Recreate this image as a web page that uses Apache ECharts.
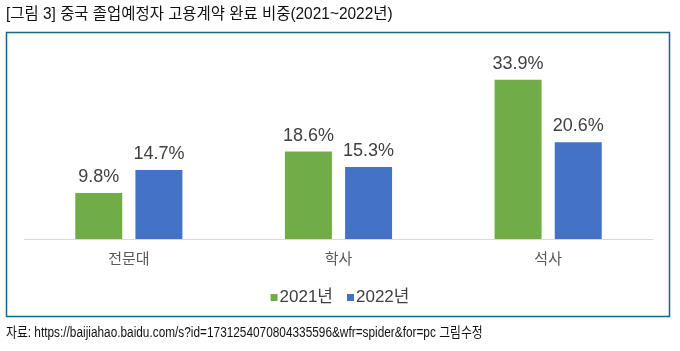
<!DOCTYPE html>
<html>
<head>
<meta charset="utf-8">
<script src="https://cdn.jsdelivr.net/npm/echarts@6/dist/echarts.min.js"></script>
<style>
html,body{margin:0;padding:0;background:#fff;}
#c{width:680px;height:351px;}
</style>
</head>
<body>
<div id="c"></div>
<script>
const categories = ['전문대', '학사', '석사'];
const series2021 = [9.8, 18.6, 33.9];
const series2022 = [14.7, 15.3, 20.6];
const seriesNames = ['2021년', '2022년'];
const titleText = '[그림 3] 중국 졸업예정자 고용계약 완료 비중(2021~2022년)';
const sourceText = '자료: https://baijiahao.baidu.com/s?id=1731254070804335596&wfr=spider&for=pc 그림수정';

const FONT = "'Liberation Sans', 'Noto Sans CJK KR', sans-serif";
const chart = echarts.init(document.getElementById('c'), null, {renderer: 'canvas'});
const labelCfg = {
  show: true, position: 'top', distance: 7,
  formatter: p => p.value.toFixed(1) + '%',
  fontFamily: FONT, fontSize: 18, color: '#404040'
};
chart.setOption({
  animation: false,
  backgroundColor: '#fff',
  graphic: [{
    type: 'rect', shape: {x: 6.5, y: 32.5, width: 663, height: 284},
    style: {fill: 'none', stroke: '#11698a', lineWidth: 1.5}, silent: true, z: -1
  }, {
    type: 'text', x: 6, y: 15, scaleX: 0.965,
    style: {text: titleText, font: "16px 'Liberation Sans', 'Noto Sans CJK KR', sans-serif",
      fill: '#111', textVerticalAlign: 'middle', verticalAlign: 'middle'}
  }, {
    type: 'text', x: 6, y: 333, scaleX: 0.845,
    style: {text: sourceText, font: "14px 'Liberation Sans', 'Noto Sans CJK KR', sans-serif",
      fill: '#111', textVerticalAlign: 'middle', verticalAlign: 'middle'}
  }],
  legend: {
    data: seriesNames, top: 284, left: 'center',
    itemWidth: 7, itemHeight: 7, itemGap: 14,
    icon: 'rect',
    textStyle: {fontFamily: FONT, fontSize: 17, color: '#404040', padding: [0,0,0,-3]}
  },
  grid: {left: 24, right: 27, top: 51, bottom: 112, containLabel: false},
  xAxis: {
    type: 'category', data: categories,
    axisLine: {lineStyle: {color: '#d9d9d9', width: 1}},
    axisTick: {show: false},
    axisLabel: {fontFamily: FONT, fontSize: 15, color: '#595959', margin: 13}
  },
  yAxis: {
    type: 'value', min: 0, max: 40, interval: 10,
    show: false, splitLine: {show: false}
  },
  series: [{
    name: seriesNames[0], type: 'bar', data: series2021,
    barWidth: 47, barGap: '28%',
    itemStyle: {color: '#70ad47'}, label: labelCfg
  }, {
    name: seriesNames[1], type: 'bar', data: series2022,
    barWidth: 47,
    itemStyle: {color: '#4472c4'}, label: labelCfg
  }]
});
</script>
</body>
</html>
